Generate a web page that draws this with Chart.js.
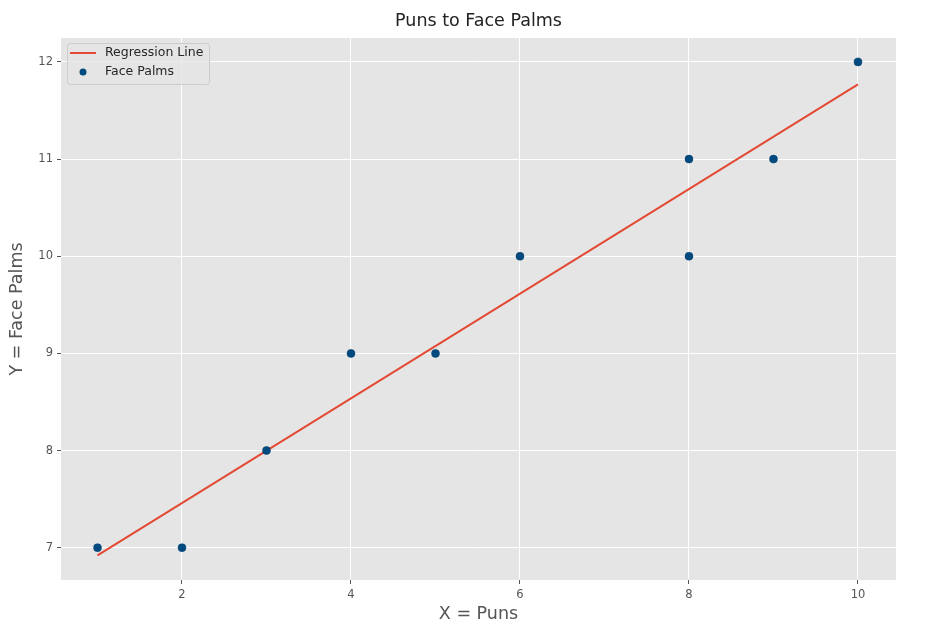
<!DOCTYPE html>
<html lang="en">
<head>
    <meta charset="UTF-8">
    <title>Puns to Face Palms</title>
    <script src="https://cdn.jsdelivr.net/npm/chart.js"></script>
    <style>
        html, body { margin: 0; padding: 0; background: #fff; }
        #wrap { width: 943px; height: 639px; }
    </style>
</head>
<body>
    <div id="wrap"><canvas id="punsChart"></canvas></div>

    <script>
        // data
        const punsX = [1, 2, 3, 4, 5, 6, 8, 8, 9, 10];
        const facePalmsY = [7, 7, 8, 9, 9, 10, 11, 10, 11, 12];
        const lineX = [1, 10];
        const lineY = [6.92, 11.77];
        const xTicks = [2, 4, 6, 8, 10];
        const yTicks = [7, 8, 9, 10, 11, 12];

        const FONT = "'DejaVu Sans', sans-serif";

        // grey plot background like ggplot style
        const bgPlugin = {
            id: 'plotBg',
            beforeDraw(chart) {
                const { ctx, chartArea: a } = chart;
                ctx.save();
                ctx.fillStyle = '#e5e5e5';
                ctx.fillRect(a.left, a.top, a.right - a.left, a.bottom - a.top);
                ctx.restore();
            }
        };

        // legend box in the upper left corner of the plot
        const legendPlugin = {
            id: 'innerLegend',
            afterDraw(chart) {
                const { ctx, chartArea: a } = chart;
                const x = a.left + 6, y = a.top + 5, w = 142, h = 41;
                ctx.save();
                ctx.fillStyle = 'rgba(229,229,229,0.8)';
                ctx.strokeStyle = '#cccccc';
                ctx.lineWidth = 1;
                ctx.beginPath();
                ctx.roundRect(x + 0.5, y + 0.5, w, h, 3);
                ctx.fill();
                ctx.stroke();

                const line = chart.data.datasets[0];
                const pts = chart.data.datasets[1];
                ctx.strokeStyle = line.borderColor;
                ctx.lineWidth = 2;
                ctx.beginPath();
                ctx.moveTo(x + 3, y + 10);
                ctx.lineTo(x + 29, y + 10);
                ctx.stroke();

                ctx.fillStyle = pts.backgroundColor;
                ctx.beginPath();
                ctx.arc(x + 16, y + 29, 3.5, 0, Math.PI * 2);
                ctx.fill();

                ctx.fillStyle = '#262626';
                ctx.font = '12.5px ' + FONT;
                ctx.textBaseline = 'middle';
                ctx.fillText(line.label, x + 38, y + 10);
                ctx.fillText(pts.label, x + 38, y + 29);
                ctx.restore();
            }
        };

        const ctx = document.getElementById('punsChart').getContext('2d');
        new Chart(ctx, {
            type: 'scatter',
            data: {
                datasets: [
                    {
                        type: 'line',
                        label: 'Regression Line',
                        data: lineX.map((x, i) => ({ x: x, y: lineY[i] })),
                        borderColor: '#e24a33',
                        borderWidth: 2,
                        pointRadius: 0,
                        fill: false,
                        order: 2
                    },
                    {
                        label: 'Face Palms',
                        data: punsX.map((x, i) => ({ x: x, y: facePalmsY[i] })),
                        backgroundColor: '#004a80',
                        borderColor: '#003c6b',
                        borderWidth: 0.5,
                        pointRadius: 4,
                        order: 1
                    }
                ]
            },
            options: {
                responsive: true,
                maintainAspectRatio: false,
                animation: false,
                layout: { padding: { left: 0, right: 47, top: 0, bottom: 0 } },
                plugins: {
                    legend: { display: false },
                    tooltip: { enabled: false },
                    title: {
                        display: true,
                        text: 'Puns to Face Palms',
                        fullSize: false,
                        color: '#222',
                        font: { family: FONT, size: 17.5, weight: 'normal' },
                        padding: { top: 11, bottom: 6 }
                    }
                },
                scales: {
                    x: {
                        type: 'linear',
                        min: 0.568,
                        max: 10.45,
                        afterBuildTicks: s => { s.ticks = xTicks.map(v => ({ value: v })); },
                        afterFit: s => { s.height = 59; },
                        border: { display: false },
                        grid: { color: '#ffffff', lineWidth: 1, tickColor: '#555', tickLength: 4 },
                        ticks: { color: '#555', font: { family: FONT, size: 11.5 }, padding: 4, maxRotation: 0 },
                        title: {
                            display: true,
                            text: 'X = Puns',
                            color: '#555',
                            font: { family: FONT, size: 17.5 },
                            padding: { top: 0, bottom: 14 }
                        }
                    },
                    y: {
                        type: 'linear',
                        min: 6.667,
                        max: 12.247,
                        afterBuildTicks: s => { s.ticks = yTicks.map(v => ({ value: v })); },
                        afterFit: s => { s.width = 61; },
                        border: { display: false },
                        grid: { color: '#ffffff', lineWidth: 1, tickColor: '#555', tickLength: 4 },
                        ticks: { color: '#555', font: { family: FONT, size: 11.5 }, padding: 4 },
                        title: {
                            display: true,
                            text: 'Y = Face Palms',
                            color: '#555',
                            font: { family: FONT, size: 17.5 },
                            padding: { top: 7, bottom: 0 }
                        }
                    }
                }
            },
            plugins: [bgPlugin, legendPlugin]
        });
    </script>
</body>
</html>
